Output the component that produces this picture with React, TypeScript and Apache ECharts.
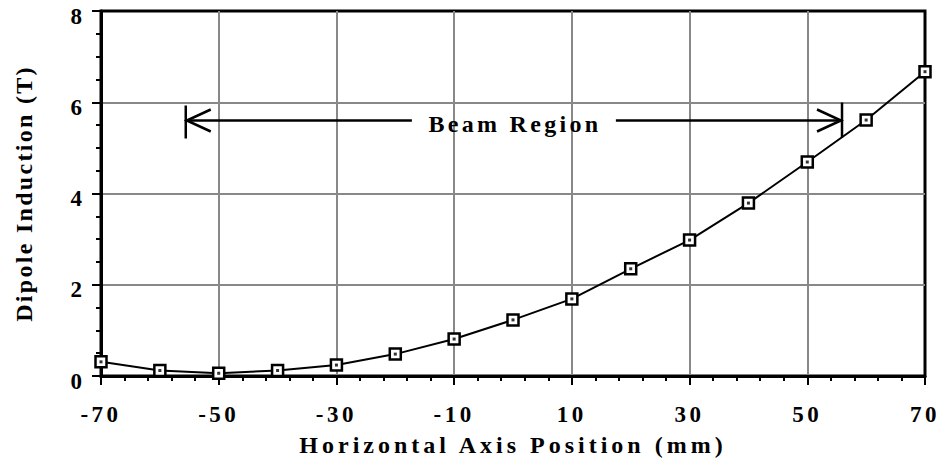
import React, { useEffect, useRef } from "react";
import * as echarts from "echarts";

const positions = [-70, -60, -50, -40, -30, -20, -10, 0, 10, 20, 30, 40, 50, 60, 70];
const induction = [0.31, 0.12, 0.06, 0.12, 0.24, 0.48, 0.81, 1.23, 1.69, 2.35, 2.98, 3.79, 4.69, 5.61, 6.67];
const beamRegionX = [-55.6, 55.9];
const beamRegionY = [5.6];
const beamLabel = "Beam Region";
const xTitle = "Horizontal Axis Position (mm)";
const yTitle = "Dipole Induction (T)";

const FONT = "Liberation Serif";

export default function App() {
  const ref = useRef<HTMLDivElement>(null);
  useEffect(() => {
    if (!ref.current) return;
    const chart = echarts.init(ref.current, undefined, { renderer: "svg" });
    const pts = positions.map((x, i) => [x, induction[i]]);
    const labelStyle = { fontFamily: FONT, fontWeight: "bold" as const, color: "#000", fontSize: 23 };
    chart.setOption({
      animation: false,
      backgroundColor: "#fff",
      grid: {
        left: 101,
        right: 16,
        top: 11,
        bottom: 93,
        show: true,
        borderColor: "#000",
        borderWidth: 3,
        backgroundColor: "transparent",
        outerBoundsMode: "none",
      },
      xAxis: {
        type: "value",
        min: -70,
        max: 70,
        interval: 20,
        name: xTitle,
        nameLocation: "middle",
        nameGap: 57,
        nameTextStyle: { ...labelStyle, fontSize: 24 },
        axisLine: { show: true, onZero: false, lineStyle: { color: "#000", width: 3 } },
        axisTick: { show: true, inside: false, length: 9, lineStyle: { color: "#000", width: 2 } },
        minorTick: { show: true, splitNumber: 5, length: 5, lineStyle: { color: "#000", width: 2 } },
        axisLabel: { ...labelStyle, margin: 27 },
        splitLine: { show: true, showMinLine: false, showMaxLine: false, lineStyle: { color: "#888", width: 2 } },
      },
      yAxis: {
        type: "value",
        min: 0,
        max: 8,
        interval: 2,
        name: yTitle,
        nameLocation: "middle",
        nameGap: 65,
        nameTextStyle: { ...labelStyle, fontSize: 24 },
        axisLine: { show: true, onZero: false, lineStyle: { color: "#000", width: 3 } },
        axisTick: { show: true, inside: false, length: 9, lineStyle: { color: "#000", width: 2 } },
        minorTick: { show: true, splitNumber: 4, length: 5, lineStyle: { color: "#000", width: 2 } },
        axisLabel: { ...labelStyle, margin: 19, verticalAlign: "top", lineHeight: 10 },
        splitLine: { show: true, showMinLine: false, showMaxLine: false, lineStyle: { color: "#888", width: 2 } },
      },
      series: [
        {
          type: "line",
          data: pts,
          symbol: "rect",
          symbolSize: 11,
          showAllSymbol: true,
          lineStyle: { color: "#000", width: 2 },
          itemStyle: { color: "#fff", borderColor: "#000", borderWidth: 2.5 },
          z: 5,
        },
        {
          type: "scatter",
          data: pts,
          symbol: "rect",
          symbolSize: 3,
          itemStyle: { color: "#000" },
          z: 6,
        },
        {
          type: "custom",
          data: [[0]],
          z: 4,
          renderItem: (params: any, api: any) => {
            const l = api.coord([beamRegionX[0], beamRegionY[0]]);
            const r = api.coord([beamRegionX[1], beamRegionY[0]]);
            const y = l[1];
            const mid = (l[0] + r[0]) / 2;
            const gap = 102;
            const head = 25;
            const hw = 11;
            const st = { stroke: "#000", lineWidth: 2.5 };
            return {
              type: "group",
              children: [
                { type: "line", shape: { x1: l[0], y1: y, x2: mid - gap, y2: y }, style: st },
                { type: "line", shape: { x1: mid + gap, y1: y, x2: r[0], y2: y }, style: st },
                { type: "line", shape: { x1: l[0], y1: y - 15, x2: l[0], y2: y + 18 }, style: st },
                { type: "line", shape: { x1: r[0], y1: y - 18, x2: r[0], y2: y + 17 }, style: st },
                { type: "polyline", shape: { points: [[l[0] + head, y - hw], [l[0] + 1, y], [l[0] + head, y + hw]] }, style: { ...st, fill: null } },
                { type: "polyline", shape: { points: [[r[0] - head, y - hw], [r[0] - 1, y], [r[0] - head, y + hw]] }, style: { ...st, fill: null } },
                {
                  type: "text",
                  x: mid + 1,
                  y: y + 3,
                  style: {
                    text: beamLabel,
                    fontFamily: FONT,
                    fontWeight: "bold",
                    fontSize: 24,
                    fill: "#000",
                    align: "center",
                    verticalAlign: "middle",
                  },
                },
              ],
            };
          },
        },
      ],
    });
    const spacing: Record<string, number> = { [xTitle]: 4, [yTitle]: 2.3, [beamLabel]: 3.3 };
    const applySpacing = () => {
      if (!ref.current) return;
      ref.current.querySelectorAll("text").forEach((t) => {
        const s = (t.textContent || "").trim();
        if (s.length > 1) {
          const v = spacing[s] ?? 3.5;
          t.setAttribute("letter-spacing", String(v));
        }
      });
    };
    applySpacing();
    chart.on("finished", applySpacing);
    const timer = setTimeout(applySpacing, 0);
    return () => {
      clearTimeout(timer);
      chart.dispose();
    };
  }, []);
  return <div ref={ref} style={{ position: "absolute", left: 0, top: 0, width: 941, height: 469 }} />;
}
